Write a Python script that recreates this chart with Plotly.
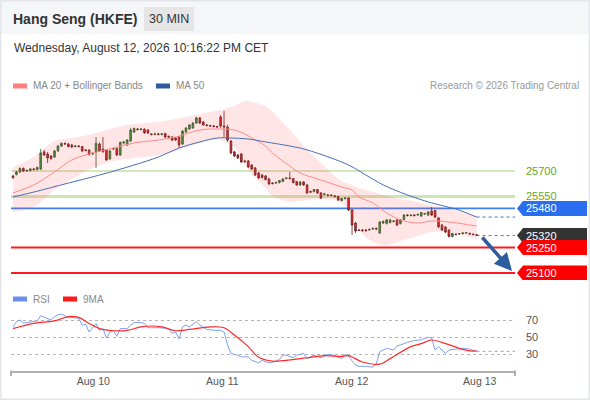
import plotly.graph_objects as go

W, H = 590, 400
FONT = "Liberation Sans, Arial, sans-serif"

# ---------------- data ----------------
idx = list(range(135))
opens = [25671, 25679, 25694, 25715, 25700, 25703, 25712, 25709, 25712, 25812,
         25800, 25788, 25782, 25818, 25847, 25862, 25859, 25853, 25844, 25847,
         25844, 25824, 25824, 25800, 25812, 25859, 25829, 25824, 25771, 25829,
         25832, 25794, 25865, 25853, 25876, 25929, 25947, 25944, 25947, 25941,
         25918, 25915, 25918, 25915, 25921, 25903, 25900, 25894, 25900, 25859,
         25929, 25947, 25953, 25982, 26012, 25988, 25971, 25968, 25965, 25962,
         26018, 25965, 25959, 25876, 25812, 25794, 25800, 25759, 25759, 25735,
         25718, 25688, 25676, 25671, 25653, 25629, 25629, 25632, 25638, 25656,
         25659, 25656, 25638, 25618, 25635, 25618, 25579, 25579, 25591, 25571,
         25562, 25559, 25559, 25553, 25550, 25526, 25538, 25541, 25471, 25394,
         25353, 25353, 25353, 25353, 25359, 25362, 25335, 25394, 25391, 25397,
         25403, 25412, 25391, 25415, 25441, 25438, 25441, 25441, 25435, 25447,
         25441, 25465, 25468, 25424, 25382, 25371, 25353, 25315, 25329, 25329,
         25332, 25335, 25332, 25329, 25326]
highs = [25676, 25700, 25721, 25721, 25709, 25718, 25718, 25726, 25829, 25824,
         25812, 25794, 25824, 25853, 25868, 25868, 25865, 25859, 25853, 25853,
         25847, 25829, 25826, 25809, 25900, 25868, 25900, 25829, 25824, 25838,
         25838, 25874, 25876, 25888, 25953, 25956, 25953, 25953, 25950, 25947,
         25921, 25924, 25924, 25924, 25924, 25909, 25906, 25900, 25906, 25941,
         25959, 25976, 25988, 26018, 26018, 25994, 25976, 25971, 25971, 25965,
         26029, 26053, 25971, 25882, 25818, 25800, 25806, 25765, 25765, 25741,
         25724, 25694, 25682, 25676, 25659, 25635, 25638, 25647, 25659, 25665,
         25694, 25659, 25641, 25641, 25641, 25624, 25585, 25594, 25594, 25576,
         25571, 25565, 25562, 25559, 25553, 25541, 25547, 25547, 25476, 25400,
         25359, 25359, 25359, 25362, 25368, 25368, 25406, 25409, 25418, 25418,
         25409, 25418, 25418, 25447, 25447, 25447, 25447, 25450, 25459, 25453,
         25465, 25488, 25471, 25429, 25388, 25376, 25356, 25335, 25332, 25335,
         25341, 25341, 25338, 25332, 25329]
lows = [25653, 25674, 25688, 25694, 25694, 25697, 25703, 25703, 25706, 25788,
        25747, 25765, 25776, 25812, 25841, 25853, 25838, 25835, 25838, 25838,
        25812, 25815, 25791, 25794, 25718, 25812, 25806, 25759, 25765, 25824,
        25788, 25788, 25856, 25847, 25871, 25924, 25938, 25938, 25918, 25918,
        25909, 25909, 25909, 25909, 25894, 25894, 25876, 25876, 25835, 25853,
        25924, 25941, 25947, 25976, 25976, 25965, 25962, 25959, 25956, 25953,
        25953, 25900, 25871, 25800, 25782, 25771, 25747, 25747, 25718, 25706,
        25671, 25653, 25656, 25644, 25618, 25621, 25624, 25626, 25635, 25650,
        25650, 25626, 25612, 25612, 25612, 25565, 25571, 25574, 25565, 25535,
        25556, 25550, 25550, 25544, 25524, 25521, 25532, 25465, 25324, 25335,
        25347, 25341, 25341, 25347, 25353, 25353, 25329, 25388, 25385, 25391,
        25397, 25376, 25385, 25412, 25432, 25432, 25432, 25435, 25429, 25441,
        25435, 25435, 25424, 25365, 25347, 25335, 25309, 25309, 25321, 25324,
        25326, 25329, 25326, 25321, 25318]
closes = [25662, 25694, 25715, 25700, 25703, 25712, 25709, 25721, 25806, 25794,
          25776, 25774, 25818, 25847, 25862, 25859, 25844, 25841, 25847, 25844,
          25818, 25821, 25797, 25803, 25862, 25818, 25815, 25765, 25818, 25832,
          25794, 25868, 25871, 25882, 25941, 25950, 25944, 25947, 25924, 25924,
          25915, 25918, 25915, 25918, 25900, 25900, 25882, 25882, 25853, 25935,
          25953, 25971, 25982, 26012, 25982, 25971, 25968, 25965, 25962, 25959,
          25965, 25959, 25882, 25806, 25788, 25776, 25753, 25756, 25724, 25712,
          25676, 25659, 25662, 25650, 25624, 25626, 25632, 25644, 25653, 25659,
          25656, 25632, 25618, 25635, 25618, 25571, 25576, 25591, 25571, 25541,
          25565, 25556, 25556, 25550, 25529, 25538, 25541, 25471, 25382, 25347,
          25350, 25350, 25350, 25356, 25362, 25359, 25400, 25403, 25412, 25412,
          25406, 25382, 25412, 25441, 25438, 25441, 25438, 25444, 25456, 25450,
          25459, 25441, 25429, 25371, 25353, 25341, 25315, 25332, 25326, 25332,
          25335, 25338, 25329, 25326, 25321]

ma_idx = [0, 6, 12, 17, 23, 29, 35, 42, 47, 54, 60, 64, 67, 69, 73, 75, 80, 83,
          89, 95, 98, 100, 104, 108, 112, 117, 121, 126, 134]
ma20 = [25571, 25618, 25694, 25765, 25806, 25835, 25865, 25882, 25900, 25941,
        25947, 25941, 25918, 25894, 25847, 25806, 25729, 25688, 25647, 25606,
        25588, 25547, 25512, 25453, 25412, 25394, 25406, 25400, 25376]
bb_upper = [25724, 25782, 25876, 25894, 25918, 25953, 25976, 25988, 26006, 26035,
            26059, 26082, 26112, 26106, 26082, 26047, 25941, 25871, 25747, 25641,
            25618, 25600, 25576, 25553, 25535, 25518, 25500, 25476, 25435]
bb_lower = [25459, 25488, 25588, 25653, 25718, 25759, 25776, 25794, 25818, 25865,
            25882, 25841, 25735, 25682, 25600, 25553, 25518, 25524, 25535, 25512,
            25441, 25353, 25282, 25265, 25288, 25318, 25341, 25335, 25300]

ma50_idx = [0, 6, 16, 25, 35, 42, 48, 54, 59, 63, 68, 73, 80, 85, 97, 102, 107,
            114, 121, 128, 134]
ma50 = [25547, 25576, 25629, 25676, 25735, 25782, 25835, 25871, 25894, 25894,
        25888, 25871, 25847, 25824, 25735, 25676, 25618, 25559, 25512, 25476, 25429]

rsi_idx = [0, 1, 2, 3, 4, 6, 7, 8, 10, 11, 12, 13, 14, 16, 17, 19, 20, 21, 22, 23,
           24, 25, 26, 27, 28, 29, 30, 31, 33, 34, 35, 37, 38, 39, 40, 42, 45, 46,
           47, 48, 49, 50, 51, 53, 54, 56, 58, 60, 61, 62, 63, 65, 66, 68, 69, 71,
           72, 74, 75, 77, 78, 79, 81, 82, 84, 85, 87, 89, 91, 93, 95, 96, 97, 99,
           100, 102, 104, 105, 106, 107, 108, 110, 111, 112, 114, 116, 118, 120,
           121, 122, 123, 125, 126, 128, 130, 132, 134]
rsi = [62, 68, 70, 66.5, 67, 68, 69, 75, 72, 70, 74, 76, 77, 73, 73, 72, 64, 65, 56, 61,
       66, 58, 60, 49, 56, 58, 51, 60, 60, 64, 67, 67, 66, 61, 61, 61, 60, 54.5,
       56, 48, 62, 64, 62, 68, 64, 59, 58, 58, 56, 41, 31, 29, 27, 27, 23, 20,
       23, 20, 20.5, 24, 29, 29, 26, 29, 31, 25, 29, 26, 30, 28.5, 25, 30, 27.5, 17.5,
       16, 16, 15, 19, 33, 35, 37, 35, 39.7, 41, 44, 46, 47, 50,
       49, 35, 39, 31, 35, 36, 37, 36, 33.5]

rsi_ma_idx = [0, 6, 12, 16, 19, 22, 25, 29, 33, 37, 40, 43, 47, 51, 57, 61, 64, 68,
              71, 75, 79, 83, 85, 90, 95, 97, 101, 106, 109, 115, 118, 121, 124,
              129, 132, 134]
rsi_ma = [60, 66, 69, 74, 73, 66, 60, 57.5, 58, 62, 63, 62, 57.5, 59, 62, 61, 52.5, 39,
          26.5, 22, 23, 25, 26, 28.5, 27.5, 28.5, 21, 18.5, 25, 39, 42.5, 46.7, 44,
          37, 34, 34]

day_ticks = [23.2, 60.5, 97.9, 134.9]
day_labels = ["Aug 10", "Aug 11", "Aug 12", "Aug 13"]

green_levels = [25700, 25550]
res_level = 25480
last_price = 25320
red_levels = [25250, 25100]
rsi_grid = [30, 50, 70]

# ---------------- geometry helpers (layout only) ----------------
X0, X1 = 11, 515
XRANGE = [-0.58, 145.1]
PRICE_RANGE = [25058.8, 26117.6]
RSI_RANGE = [10.9, 80.5]


def px(x):
    return x / W


def py(y):
    return 1 - y / H


fig = go.Figure()

# Bollinger band fill
fig.add_trace(go.Scatter(x=ma_idx, y=bb_lower, mode="lines", line=dict(width=0, shape="spline"),
                         hoverinfo="skip", showlegend=False))
fig.add_trace(go.Scatter(x=ma_idx, y=bb_upper, mode="lines", line=dict(width=0, shape="spline"),
                         fill="tonexty", fillcolor="rgba(255,80,80,0.15)",
                         hoverinfo="skip", showlegend=False))
fig.add_trace(go.Scatter(x=ma_idx, y=ma20, mode="lines",
                         line=dict(color="#ff8a8a", width=1, shape="spline"), showlegend=False))
fig.add_trace(go.Scatter(x=ma50_idx, y=ma50, mode="lines",
                         line=dict(color="#4a6fb8", width=1, shape="spline"), showlegend=False))

# candles
fig.add_trace(go.Candlestick(
    x=idx, open=opens, high=highs, low=lows, close=closes,
    increasing=dict(line=dict(color="#2a5a2a", width=0.8), fillcolor="#3c9c3c"),
    decreasing=dict(line=dict(color="#6a1c1c", width=0.8), fillcolor="#e0262b"),
    whiskerwidth=0, showlegend=False, hoverinfo="skip"))

# dotted extensions from last values to the label column
fig.add_trace(go.Scatter(x=[ma50_idx[-1], XRANGE[1]], y=[ma50[-1], ma50[-1]], mode="lines",
                         line=dict(color="#4a6fb8", width=1, dash="dot"), showlegend=False))
fig.add_trace(go.Scatter(x=[idx[-1], XRANGE[1]], y=[last_price, last_price], mode="lines",
                         line=dict(color="#777777", width=1, dash="dot"), showlegend=False))

# RSI panel
fig.add_trace(go.Scatter(x=rsi_idx, y=rsi, mode="lines", yaxis="y2",
                         line=dict(color="#7f9ff0", width=1), showlegend=False))
fig.add_trace(go.Scatter(x=rsi_ma_idx, y=rsi_ma, mode="lines", yaxis="y2",
                         line=dict(color="#ff2a2a", width=1.2, shape="spline"), showlegend=False))
fig.add_trace(go.Scatter(x=[rsi_idx[-1], XRANGE[1]], y=[rsi[-1], rsi[-1]], mode="lines", yaxis="y2",
                         line=dict(color="#7f9ff0", width=1, dash="dot"), showlegend=False))

shapes = []
annotations = []

# header band
shapes.append(dict(type="rect", xref="paper", yref="paper", x0=0, x1=1, y0=py(34), y1=1,
                   fillcolor="#f5f6f8", line=dict(width=0), layer="below"))
shapes.append(dict(type="rect", xref="paper", yref="paper", x0=px(144), x1=px(194), y0=py(31), y1=py(7),
                   fillcolor="#e6e6e6", line=dict(width=0), layer="below"))
# outer border
shapes.append(dict(type="rect", xref="paper", yref="paper", x0=0, x1=1, y0=0, y1=1,
                   fillcolor="rgba(0,0,0,0)", line=dict(color="#e4e6ea", width=3)))

annotations.append(dict(text="<b>Hang Seng (HKFE)</b>", xref="paper", yref="paper", x=px(11), y=py(19),
                        xanchor="left", yanchor="middle", showarrow=False,
                        font=dict(family=FONT, size=14, color="#333333")))
annotations.append(dict(text="30 MIN", xref="paper", yref="paper", x=px(169), y=py(19),
                        xanchor="center", yanchor="middle", showarrow=False,
                        font=dict(family=FONT, size=12.5, color="#333333")))
annotations.append(dict(text="Wednesday, August 12, 2026 10:16:22 PM CET", xref="paper", yref="paper",
                        x=px(12), y=py(48), xanchor="left", yanchor="middle", showarrow=False,
                        font=dict(family=FONT, size=12, color="#333333")))

# legends
legend_items = [(13, "#ff7f7f", "MA 20 + Bollinger Bands", 86), (156, "#2f5a9e", "MA 50", 86),
                (13, "#6a8ee8", "RSI", 299), (63, "#ff1a1a", "9MA", 299)]
for lx, col, txt, ly in legend_items:
    shapes.append(dict(type="rect", xref="paper", yref="paper", x0=px(lx), x1=px(lx + 14),
                       y0=py(ly + 2.5), y1=py(ly - 2.5), fillcolor=col, line=dict(width=0)))
    annotations.append(dict(text=txt, xref="paper", yref="paper", x=px(lx + 18), y=py(ly),
                            xanchor="left", yanchor="middle", showarrow=False,
                            font=dict(family=FONT, size=10, color="#888888")))
annotations.append(dict(text="Research © 2026 Trading Central", xref="paper", yref="paper",
                        x=px(581), y=py(86), xanchor="right", yanchor="middle", showarrow=False,
                        font=dict(family=FONT, size=10, color="#999999")))

# level lines
for lvl, col, wdt in [(green_levels[0], "#a6d27c", 1.2), (green_levels[1], "#cde6b4", 3),
                      (res_level, "#3d7ff2", 1.6), (red_levels[0], "#ff1a1a", 2),
                      (red_levels[1], "#ff1a1a", 2)]:
    shapes.append(dict(type="line", xref="x domain", yref="y", x0=0, x1=1, y0=lvl, y1=lvl,
                       line=dict(color=col, width=wdt), layer="below"))

for lvl in green_levels:
    annotations.append(dict(text=str(lvl), xref="paper", yref="y", x=px(524), y=lvl,
                            xanchor="left", yanchor="middle", showarrow=False,
                            font=dict(family=FONT, size=11, color="#5fa82a")))

box_path = "M 2,0 L 8,7.5 L 72,7.5 L 72,-7.5 L 8,-7.5 Z"
for lvl, col in [(res_level, "#2a6ef0"), (last_price, "#333333"),
                 (red_levels[0], "#ff0000"), (red_levels[1], "#ff0000")]:
    shapes.append(dict(type="path", xref="paper", yref="y", xsizemode="pixel", ysizemode="pixel",
                       xanchor=px(515), yanchor=lvl, path=box_path, fillcolor=col, line=dict(width=0)))
    annotations.append(dict(text=str(lvl), xref="paper", yref="y", x=px(524), y=lvl,
                            xanchor="left", yanchor="middle", showarrow=False,
                            font=dict(family=FONT, size=11, color="#ffffff")))

# forecast arrow
annotations.append(dict(text="", xref="paper", yref="paper", x=px(512), y=py(271),
                        ax=-31, ay=-35, axref="pixel", ayref="pixel", showarrow=True,
                        arrowhead=2, arrowsize=1, arrowwidth=3.5, arrowcolor="#2e5d9e"))

# RSI right labels
for g in rsi_grid:
    annotations.append(dict(text=str(g), xref="paper", yref="y2", x=px(524), y=g,
                            xanchor="left", yanchor="middle", showarrow=False,
                            font=dict(family=FONT, size=11, color="#555555")))

# end ticks of the time axis
for ex in (X0, X1):
    shapes.append(dict(type="line", xref="paper", yref="paper", x0=px(ex), x1=px(ex),
                       y0=py(370.5), y1=py(376), line=dict(color="#b0b0b0", width=2)))

fig.update_layout(
    width=W, height=H, margin=dict(l=0, r=0, t=0, b=0),
    paper_bgcolor="#ffffff", plot_bgcolor="rgba(0,0,0,0)",
    showlegend=False, shapes=shapes, annotations=annotations,
    font=dict(family=FONT),
    xaxis=dict(domain=[px(X0), px(X1)], range=XRANGE, anchor="y2",
               tickvals=day_ticks, ticktext=day_labels, ticks="",
               tickfont=dict(family=FONT, size=10.5, color="#555555"),
               showgrid=False, zeroline=False, showline=True, linecolor="#b0b0b0", linewidth=2,
               rangeslider=dict(visible=False), fixedrange=True),
    yaxis=dict(domain=[py(280), py(100)], range=PRICE_RANGE, showgrid=False, zeroline=False,
               showticklabels=False, showline=False),
    yaxis2=dict(domain=[py(370.7), py(311)], range=RSI_RANGE, tickvals=rsi_grid,
                showticklabels=False, showgrid=True, griddash="dot", gridcolor="#b5b5b5",
                gridwidth=1, zeroline=False, showline=False),
)

fig.write_html("out.html", config={"displayModeBar": False},
               post_script="document.body.style.margin='0px';document.body.style.overflow='hidden';")
